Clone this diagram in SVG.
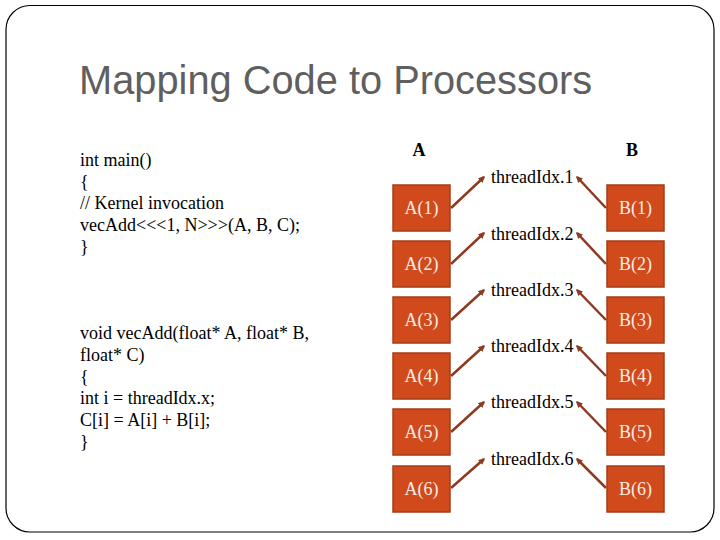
<svg xmlns="http://www.w3.org/2000/svg" width="720" height="540" viewBox="0 0 720 540">
<defs>
<style>
.title{font-family:"Liberation Sans",Arial,sans-serif;font-size:39.8px;fill:#5f5f5f}
.code{font-family:"Liberation Serif","Times New Roman",serif;font-size:18px;fill:#000}
.hdr{font-family:"Liberation Serif","Times New Roman",serif;font-size:18px;font-weight:bold;fill:#000}
.tid{font-family:"Liberation Serif","Times New Roman",serif;font-size:18px;fill:#000}
.box{fill:#D04A1C;stroke:#A63C16;stroke-width:1.5}
.bl{font-family:"Liberation Serif","Times New Roman",serif;font-size:18px;fill:#F8EDE6;text-anchor:middle}
.con{stroke:#8E3A1E;stroke-width:2.5;fill:none;marker-end:url(#ah)}
</style>
<marker id="ah" viewBox="0 0 10 10" refX="8" refY="5" markerWidth="2.6" markerHeight="2.6" orient="auto">
<path d="M0,0 L10,5 L0,10 z" fill="#8E3A1E"/>
</marker>
</defs>
<rect x="0" y="0" width="720" height="540" fill="#fff"/>
<rect x="6" y="5.5" width="708" height="526.5" rx="24" ry="24" fill="none" stroke="#000" stroke-width="1.2"/>
<text class="title" x="79" y="94">Mapping Code to Processors</text>
<g id="code">
<text class="code" x="80" y="166">int main()</text>
<text class="code" x="80" y="188">{</text>
<text class="code" x="80" y="209">// Kernel invocation</text>
<text class="code" x="80" y="231">vecAdd&lt;&lt;&lt;1, N&gt;&gt;&gt;(A, B, C);</text>
<text class="code" x="80" y="253">}</text>
<text class="code" x="80" y="339">void vecAdd(float* A, float* B,</text>
<text class="code" x="80" y="361">float* C)</text>
<text class="code" x="80" y="383">{</text>
<text class="code" x="80" y="404">int i = threadIdx.x;</text>
<text class="code" x="80" y="426">C[i] = A[i] + B[i];</text>
<text class="code" x="80" y="448">}</text>
</g>
<text class="hdr" x="419" y="156" text-anchor="middle">A</text>
<text class="hdr" x="632" y="156" text-anchor="middle">B</text>
<g id="connectors">
<line class="con" x1="451" y1="208" x2="484" y2="177"/>
<line class="con" x1="606" y1="208" x2="577" y2="177"/>
<line class="con" x1="451" y1="264" x2="484" y2="233"/>
<line class="con" x1="606" y1="264" x2="577" y2="233"/>
<line class="con" x1="451" y1="320" x2="484" y2="290"/>
<line class="con" x1="606" y1="320" x2="577" y2="290"/>
<line class="con" x1="451" y1="376" x2="484" y2="346"/>
<line class="con" x1="606" y1="376" x2="577" y2="346"/>
<line class="con" x1="451" y1="432" x2="484" y2="402"/>
<line class="con" x1="606" y1="432" x2="577" y2="402"/>
<line class="con" x1="451" y1="488" x2="484" y2="459"/>
<line class="con" x1="606" y1="488" x2="577" y2="459"/>
</g>
<g id="threads">
<text class="tid" x="491" y="183">threadIdx.1</text>
<text class="tid" x="491" y="240">threadIdx.2</text>
<text class="tid" x="491" y="296">threadIdx.3</text>
<text class="tid" x="491" y="352">threadIdx.4</text>
<text class="tid" x="491" y="408">threadIdx.5</text>
<text class="tid" x="491" y="465">threadIdx.6</text>
</g>
<g id="A1"><rect class="box" x="393" y="185" width="57" height="46"/><text class="bl" x="421.5" y="214">A(1)</text></g>
<g id="A2"><rect class="box" x="393" y="241" width="57" height="46"/><text class="bl" x="421.5" y="270">A(2)</text></g>
<g id="A3"><rect class="box" x="393" y="297" width="57" height="46"/><text class="bl" x="421.5" y="326">A(3)</text></g>
<g id="A4"><rect class="box" x="393" y="353" width="57" height="46"/><text class="bl" x="421.5" y="382">A(4)</text></g>
<g id="A5"><rect class="box" x="393" y="409" width="57" height="46"/><text class="bl" x="421.5" y="438">A(5)</text></g>
<g id="A6"><rect class="box" x="393" y="466" width="57" height="46"/><text class="bl" x="421.5" y="495">A(6)</text></g>
<g id="B1"><rect class="box" x="607" y="185" width="57" height="46"/><text class="bl" x="635.5" y="214">B(1)</text></g>
<g id="B2"><rect class="box" x="607" y="241" width="57" height="46"/><text class="bl" x="635.5" y="270">B(2)</text></g>
<g id="B3"><rect class="box" x="607" y="297" width="57" height="46"/><text class="bl" x="635.5" y="326">B(3)</text></g>
<g id="B4"><rect class="box" x="607" y="353" width="57" height="46"/><text class="bl" x="635.5" y="382">B(4)</text></g>
<g id="B5"><rect class="box" x="607" y="409" width="57" height="46"/><text class="bl" x="635.5" y="438">B(5)</text></g>
<g id="B6"><rect class="box" x="607" y="466" width="57" height="46"/><text class="bl" x="635.5" y="495">B(6)</text></g>
</svg>
